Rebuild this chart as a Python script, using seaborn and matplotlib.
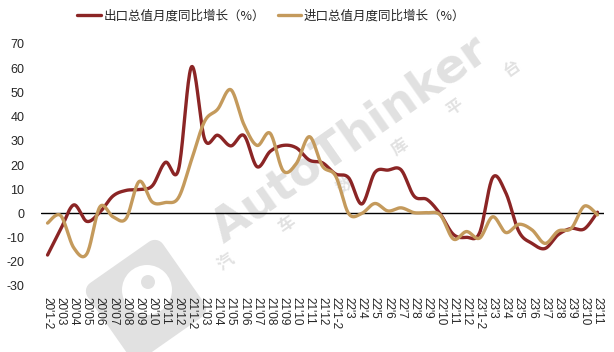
import numpy as np
import pandas as pd
import matplotlib
matplotlib.use("Agg")
import matplotlib.pyplot as plt
import seaborn as sns
from matplotlib.patches import Polygon, Circle
from matplotlib.lines import Line2D

months = ["20'1-2", "20'03", "20'04", "20'05", "20'06", "20'07", "20'08", "20'09", "20'10", "20'11", "20'12",
          "21'1-2", "21'03", "21'04", "21'05", "21'06", "21'07", "21'08", "21'09", "21'10", "21'11", "21'12",
          "22'1-2", "22'3", "22'4", "22'5", "22'6", "22'7", "22'8", "22'9", "22'10", "22'11", "22'12",
          "23'1-2", "23'3", "23'4", "23'5", "23'6", "23'7", "23'8", "23'9", "23'10", "23'11"]
export_yoy = [-17.2, -6.6, 3.5, -3.3, 0.5, 7.2, 9.5, 9.9, 11.4, 21.1, 18.1,
              60.6, 30.6, 32.3, 27.9, 32.2, 19.3, 25.6, 28.1, 27.1, 22.0, 20.9,
              16.3, 14.7, 3.9, 16.9, 17.9, 18.0, 7.1, 5.7, -0.3, -8.7, -9.9,
              -8.0, 14.8, 8.5, -7.5, -12.4, -14.5, -8.8, -6.2, -6.4, 0.5]
import_yoy = [-4.0, -0.9, -14.2, -16.7, 2.7, -1.4, -2.1, 13.2, 4.7, 4.5, 6.5,
              22.2, 38.1, 43.1, 51.1, 36.7, 28.1, 33.1, 17.6, 20.6, 31.7, 19.5,
              15.5, -0.1, 0.0, 4.1, 1.0, 2.3, 0.3, 0.3, -0.7, -10.6, -7.5,
              -10.2, -1.4, -7.9, -4.5, -6.8, -12.4, -7.3, -6.2, 3.0, -0.6]
yticks = [-30, -20, -10, 0, 10, 20, 30, 40, 50, 60, 70]
name_exp = "出口总值月度同比增长（%）"
name_imp = "进口总值月度同比增长（%）"
c_exp = "#8B2525"
c_imp = "#C49A5C"
wm_color = "#e1e1e1"


def smooth(y, n=20):
    # Excel-style smoothed line (Catmull-Rom Bezier) through the data points
    y = np.asarray(y, float)
    x = np.arange(len(y), dtype=float)
    P = np.column_stack([x, y])
    out = []
    for i in range(len(P) - 1):
        p0 = P[i - 1] if i > 0 else P[i]
        p1, p2 = P[i], P[i + 1]
        p3 = P[i + 2] if i + 2 < len(P) else P[i + 1]
        c1 = p1 + (p2 - p0) / 6
        c2 = p2 - (p3 - p1) / 6
        t = np.linspace(0, 1, n, endpoint=False)[:, None]
        b = (1 - t) ** 3 * p1 + 3 * (1 - t) ** 2 * t * c1 + 3 * (1 - t) * t ** 2 * c2 + t ** 3 * p2
        out.append(b)
    out.append(P[-1:])
    out = np.vstack(out)
    return out[:, 0], out[:, 1]


sns.set_theme(style="white")
plt.rcParams['font.family'] = ['Noto Sans CJK SC', 'DejaVu Sans']

W, H = 614, 352
fig = plt.figure(figsize=(W / 100, H / 100), dpi=100)
ax = fig.add_axes([41 / W, (H - 286) / H, (604 - 41) / W, (286 - 44) / H])
ax.set_zorder(5)

# ---- watermark (background decoration) ----
fig.text(350 / W, 1 - 140 / H, "AutoThinker", rotation=35, fontsize=34,
         fontweight="bold", color=wm_color, ha="center", va="center", family="DejaVu Sans", zorder=0)
wm_chars = ["汽", "车", "数", "库", "平", "台"]
wm_pos = [(226, 262), (287, 224), (345, 185), (400, 147), (455, 107), (512, 68)]
for ch, (px, py) in zip(wm_chars, wm_pos):
    fig.text(px / W, 1 - py / H, ch, rotation=35, fontsize=12, color=wm_color,
             ha="center", va="center", fontweight="bold", zorder=0)


def rounded_square(cx, cy, side, r, ang):
    h = side / 2 - r
    pts = []
    for (sx, sy, a0) in [(1, 1, 0), (-1, 1, 90), (-1, -1, 180), (1, -1, 270)]:
        th = np.radians(np.linspace(a0, a0 + 90, 8))
        pts.append(np.column_stack([sx * h + r * np.cos(th), sy * h + r * np.sin(th)]))
    pts = np.vstack(pts)
    a = np.radians(ang)
    R = np.array([[np.cos(a), -np.sin(a)], [np.sin(a), np.cos(a)]])
    pts = pts @ R.T
    return pts + [cx, cy]


logo = rounded_square(146, H - 300, 92, 10, 35)
fig.patches.append(Polygon(logo, closed=True, transform=None, facecolor=wm_color, edgecolor="none", zorder=0))
fig.patches.append(Circle((147, H - 290), 25, transform=None, facecolor="white", edgecolor="none", zorder=0))
fig.patches.append(Circle((148, H - 282), 7, transform=None, facecolor=wm_color, edgecolor="none", zorder=0))

# ---- data ----
rows = []
for name, vals in [(name_exp, export_yoy), (name_imp, import_yoy)]:
    xs, ys = smooth(vals)
    rows.append(pd.DataFrame({"x": xs, "y": ys, "series": name}))
df = pd.concat(rows, ignore_index=True)

ax.axhline(0, color="black", lw=1.0, zorder=1)
sns.lineplot(data=df, x="x", y="y", hue="series", palette={name_exp: c_exp, name_imp: c_imp},
             hue_order=[name_exp, name_imp], sort=False, estimator=None, units="series",
             lw=2.4, ax=ax, legend=False, zorder=3)

ax.set_xlim(-0.5, len(months) - 0.5)
ax.set_ylim(-30, 70)
ax.set_yticks(yticks)
ax.set_yticklabels([str(v) for v in yticks], fontsize=9, family="Liberation Sans")
ax.set_xticks(range(len(months)))
ax.set_xticklabels(months, rotation=270, fontsize=8.5, family="Liberation Sans")
ax.tick_params(axis="y", length=0, pad=12)
ax.tick_params(axis="x", length=0, pad=8)
ax.set_xlabel("")
ax.set_ylabel("")
for s in ax.spines.values():
    s.set_visible(False)
ax.patch.set_alpha(0)

handles = [Line2D([], [], color=c_exp, lw=2.4), Line2D([], [], color=c_imp, lw=2.4)]
fig.legend(handles, [name_exp, name_imp], loc="upper center", bbox_to_anchor=(0.442, 1.005), ncol=2,
           frameon=False, fontsize=9, handlelength=1.9, handletextpad=0.2, columnspacing=1.0)

fig.savefig("out.png", dpi=100)
